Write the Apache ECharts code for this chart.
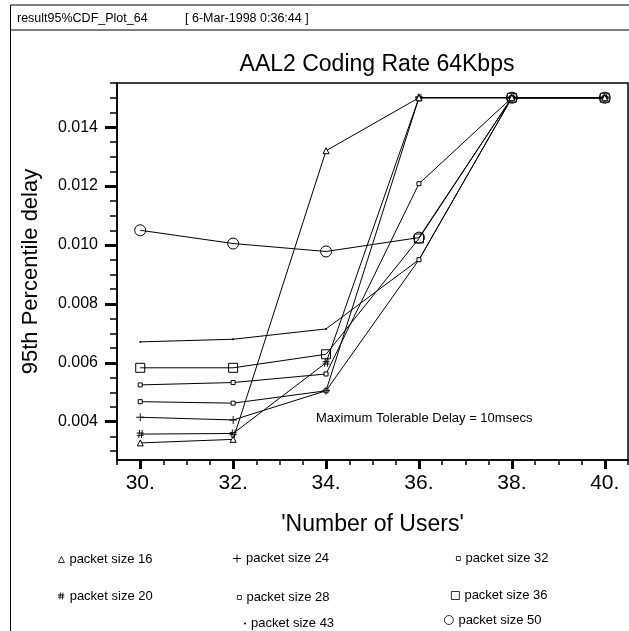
<!DOCTYPE html>
<html>
<head>
<meta charset="utf-8">
<title>AAL2 Coding Rate 64Kbps</title>
<script src="https://cdn.jsdelivr.net/npm/echarts@6/dist/echarts.min.js"></script>
<style>
  html, body { margin: 0; padding: 0; background: #fff; }
  #chart { width: 629px; height: 631px; }
</style>
</head>
<body>
<div id="chart"></div>
<script>
// number of users (x) and 95th percentile delay per packet size (y, seconds)
const users = [30, 32, 34, 36, 38, 40]
const size16 = [0.00328, 0.00340, 0.01320, 0.01500, 0.01500, 0.01500]
const size20 = [0.00358, 0.00360, 0.00600, 0.01500, 0.01500, 0.01500]
const size24 = [0.00415, 0.00406, 0.00505, 0.01500, 0.01500, 0.01500]
const size28 = [0.00468, 0.00463, 0.00505, 0.00950, 0.01500, 0.01500]
const size32 = [0.00525, 0.00533, 0.00562, 0.01208, 0.01500, 0.01500]
const size36 = [0.00583, 0.00583, 0.00629, 0.01022, 0.01500, 0.01500]
const size43 = [0.00671, 0.00680, 0.00715, 0.00950, 0.01500, 0.01500]
const size50 = [0.01050, 0.01005, 0.00978, 0.01025, 0.01500, 0.01500]

const xTicks = [30, 32, 34, 36, 38, 40]
const yTicks = [0.004, 0.006, 0.008, 0.010, 0.012, 0.014]

const FONT = 'Liberation Sans, Arial, sans-serif'

// minor tick positions, every 0.5 user / 0.0005 s
function steps(from, to, step) {
  const out = []
  for (let v = from; v <= to + step / 2; v += step) out.push(Math.round(v / step) * step)
  return out
}
const xMinor = steps(29.5, 40.5, 0.5)
const yMinor = steps(0.003, 0.0155, 0.0005)

const hashPath = 'path://M3,0h1.2l-1,10h-1.2zM6.5,0h1.2l-1,10h-1.2zM0,3h9v1.2h-9zM0,6h9v1.2h-9z'
const plusPath = 'path://M4,0h1v9h-1zM0,4h9v1h-9z'

const hollow = { color: '#fff', borderColor: '#000', borderWidth: 1 }
const clear = { color: 'rgba(0,0,0,0)', borderColor: '#000', borderWidth: 1 }

const seriesDefs = [
  { name: 'packet size 50', data: size50, symbol: 'circle', symbolSize: 11, itemStyle: clear },
  { name: 'packet size 43', data: size43, symbol: 'circle', symbolSize: 2, itemStyle: { color: '#000' } },
  { name: 'packet size 36', data: size36, symbol: 'rect', symbolSize: 9, itemStyle: clear },
  { name: 'packet size 32', data: size32, symbol: 'rect', symbolSize: 4, itemStyle: hollow },
  { name: 'packet size 28', data: size28, symbol: 'rect', symbolSize: 4, itemStyle: hollow },
  { name: 'packet size 24', data: size24, symbol: plusPath, symbolSize: 8, itemStyle: { color: '#000' } },
  { name: 'packet size 20', data: size20, symbol: hashPath, symbolSize: [7, 8], itemStyle: { color: '#000' } },
  { name: 'packet size 16', data: size16, symbol: 'triangle', symbolSize: 6, itemStyle: hollow },
]

// legend layout: [series name, icon, icon size, left, row centre y]
const legendSlots = [
  ['packet size 16', 'triangle', 6, 58, 556],
  ['packet size 24', plusPath, 8, 233, 556],
  ['packet size 32', 'rect', 4, 456, 554],
  ['packet size 20', hashPath, 7, 58, 593],
  ['packet size 28', 'rect', 4, 237, 593],
  ['packet size 36', 'rect', 8, 451, 593],
  ['packet size 43', 'circle', 2, 244, 618],
  ['packet size 50', 'circle', 9, 444, 618],
]

const chart = echarts.init(document.getElementById('chart'))

const tickLabel = { fontFamily: FONT, color: '#000' }

chart.setOption({
  animation: false,
  backgroundColor: '#fff',
  title: {
    text: 'AAL2 Coding Rate 64Kbps',
    left: 372,
    top: 48,
    textAlign: 'center',
    textStyle: { fontFamily: FONT, fontSize: 23, fontWeight: 'normal', color: '#000' },
  },
  legend: legendSlots.map(([name, icon, size, left, y]) => ({
    data: [name],
    icon: icon,
    itemWidth: size,
    itemHeight: size,
    left: left,
    top: y - size / 2,
    padding: 0,
    selectedMode: false,
    itemStyle: { borderWidth: 0.8 },
    textStyle: { fontFamily: FONT, fontSize: 13, color: '#000' },
  })),
  grid: {
    left: 117,
    top: 83,
    right: 1,
    bottom: 171,
    show: true,
    borderColor: '#000',
    borderWidth: 1.5,
  },
  xAxis: [
    {
      type: 'value',
      min: 29.5,
      max: 40.5,
      name: "'Number of Users'",
      nameLocation: 'middle',
      nameGap: 53,
      nameTextStyle: { fontFamily: FONT, fontSize: 23, color: '#000' },
      axisLine: { show: true, lineStyle: { color: '#000', width: 1.5 } },
      axisTick: { show: true, customValues: xTicks, length: 9, lineStyle: { color: '#000', width: 3 } },
      axisLabel: {
        ...tickLabel,
        customValues: xTicks,
        fontSize: 21,
        margin: 13,
        formatter: v => v + '.',
      },
      splitLine: { show: false },
    },
    {
      type: 'value',
      min: 29.5,
      max: 40.5,
      position: 'bottom',
      axisLine: { show: false },
      axisTick: { show: true, customValues: xMinor, length: 5, lineStyle: { color: '#000', width: 1.5 } },
      axisLabel: { show: false },
      splitLine: { show: false },
    },
  ],
  yAxis: [
    {
      type: 'value',
      min: 0.0027,
      max: 0.0155,
      name: '95th Percentile delay',
      nameLocation: 'middle',
      nameGap: 75,
      nameTextStyle: { fontFamily: FONT, fontSize: 22, color: '#000' },
      axisLine: { show: true, lineStyle: { color: '#000', width: 1.5 } },
      axisTick: { show: true, customValues: yTicks, length: 12, lineStyle: { color: '#000', width: 3 } },
      axisLabel: {
        ...tickLabel,
        customValues: yTicks,
        fontSize: 16,
        margin: 19,
        formatter: v => v.toFixed(3),
      },
      splitLine: { show: false },
    },
    {
      type: 'value',
      min: 0.0027,
      max: 0.0155,
      position: 'left',
      axisLine: { show: false },
      axisTick: { show: true, customValues: yMinor, length: 7, lineStyle: { color: '#000', width: 1.5 } },
      axisLabel: { show: false },
      splitLine: { show: false },
    },
  ],
  series: seriesDefs.map(s => ({
    name: s.name,
    type: 'line',
    data: users.map((u, i) => [u, s.data[i]]),
    symbol: s.symbol,
    symbolSize: s.symbolSize,
    showAllSymbol: true,
    itemStyle: s.itemStyle,
    lineStyle: { color: '#000', width: 1 },
    emphasis: { disabled: true },
    clip: false,
  })),
  graphic: [
    { type: 'line', shape: { x1: 10.5, y1: 5, x2: 629, y2: 5 }, style: { stroke: '#000', lineWidth: 1 } },
    { type: 'line', shape: { x1: 10.5, y1: 5, x2: 10.5, y2: 631 }, style: { stroke: '#000', lineWidth: 1 } },
    { type: 'line', shape: { x1: 10.5, y1: 30, x2: 629, y2: 30 }, style: { stroke: '#000', lineWidth: 1 } },
    {
      type: 'text', left: 17, top: 12,
      style: { text: 'result95%CDF_Plot_64', fontFamily: FONT, fontSize: 12.5, fill: '#000' },
    },
    {
      type: 'text', left: 185, top: 12,
      style: { text: '[ 6-Mar-1998 0:36:44 ]', fontFamily: FONT, fontSize: 12.5, fill: '#000' },
    },
    {
      type: 'text', left: 316, top: 412,
      style: { text: 'Maximum Tolerable Delay = 10msecs', fontFamily: FONT, fontSize: 13, fill: '#000' },
    },
  ],
})
</script>
</body>
</html>
